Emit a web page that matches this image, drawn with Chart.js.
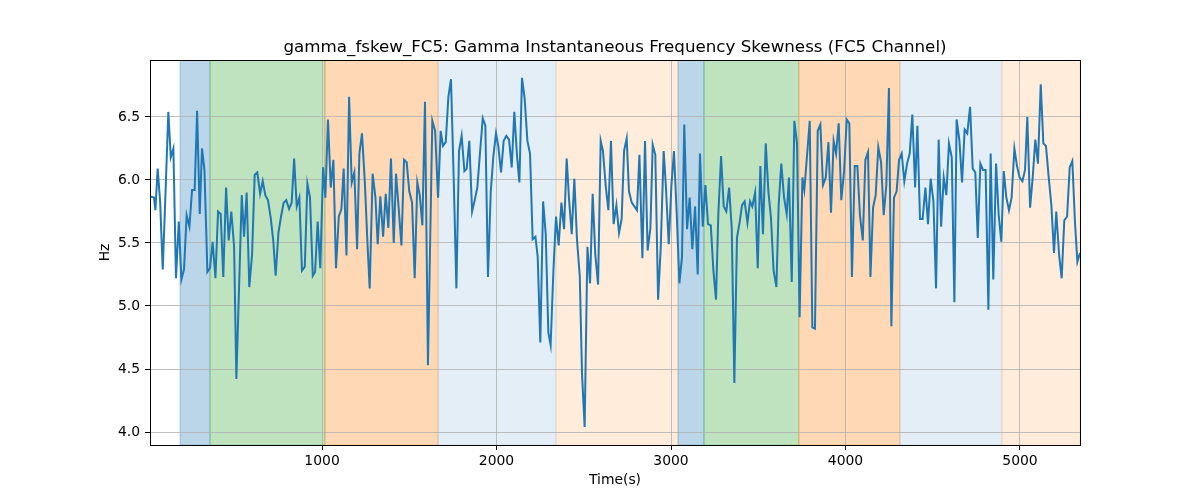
<!DOCTYPE html>
<html>
<head>
<meta charset="utf-8">
<title>gamma_fskew_FC5</title>
<script src="https://cdn.jsdelivr.net/npm/chart.js@4.4.1/dist/chart.umd.min.js"></script>
<style>
  html, body { margin: 0; padding: 0; background: #fff; }
  #wrap { width: 1200px; height: 500px; }
</style>
</head>
<body>
<div id="wrap"><canvas id="chart" width="1200" height="500"></canvas></div>
<script>
'use strict';

// Time stamps (s) and skewness values (Hz)
const times = [
  14, 37, 45, 58, 72, 87, 104, 119, 133, 148, 163, 179, 194, 209, 224, 240, 255, 270, 284, 299,
  312, 326, 343, 358, 373, 389, 404, 419, 434, 450, 465, 480, 496, 509, 540, 553, 568, 583, 599, 614,
  629, 645, 660, 675, 690, 706, 721, 734, 750, 765, 780, 795, 811, 826, 840, 855, 870, 885, 901, 916,
  931, 947, 960, 975, 990, 1006, 1019, 1034, 1050, 1065, 1080, 1096, 1111, 1124, 1140, 1155, 1170, 1185, 1201, 1214,
  1229, 1245, 1260, 1273, 1290, 1306, 1319, 1334, 1350, 1365, 1380, 1395, 1411, 1424, 1439, 1455, 1470, 1485, 1500, 1516,
  1531, 1546, 1560, 1575, 1590, 1607, 1632, 1648, 1665, 1680, 1693, 1709, 1724, 1739, 1755, 1770, 1785, 1800, 1816, 1829,
  1844, 1860, 1875, 1890, 1905, 1921, 1936, 1951, 1967, 1982, 1997, 2010, 2026, 2041, 2056, 2072, 2087, 2102, 2117, 2131,
  2146, 2161, 2177, 2192, 2207, 2223, 2236, 2251, 2267, 2282, 2297, 2310, 2326, 2341, 2356, 2372, 2387, 2402, 2415, 2431,
  2446, 2461, 2477, 2490, 2505, 2521, 2536, 2551, 2566, 2582, 2597, 2610, 2626, 2641, 2656, 2671, 2687, 2702, 2717, 2731,
  2746, 2759, 2775, 2790, 2805, 2819, 2836, 2851, 2866, 2882, 2895, 2910, 2926, 2941, 2958, 2971, 2987, 3002, 3017, 3033,
  3048, 3063, 3076, 3092, 3107, 3122, 3138, 3153, 3166, 3182, 3197, 3212, 3228, 3243, 3258, 3271, 3287, 3302, 3317, 3333,
  3348, 3363, 3378, 3394, 3407, 3422, 3438, 3453, 3466, 3482, 3497, 3512, 3527, 3543, 3558, 3573, 3588, 3604, 3617, 3632,
  3648, 3663, 3676, 3692, 3707, 3722, 3737, 3753, 3764, 3780, 3795, 3810, 3825, 3841, 3856, 3871, 3887, 3902, 3917, 3932,
  3946, 3961, 3976, 3992, 4007, 4022, 4037, 4053, 4068, 4083, 4099, 4114, 4129, 4143, 4158, 4173, 4188, 4204, 4219, 4234,
  4249, 4263, 4278, 4293, 4307, 4322, 4337, 4353, 4368, 4383, 4399, 4412, 4427, 4442, 4458, 4473, 4488, 4504, 4519, 4534,
  4548, 4563, 4578, 4593, 4609, 4624, 4637, 4653, 4668, 4683, 4698, 4714, 4729, 4744, 4758, 4773, 4788, 4803, 4819, 4832,
  4847, 4863, 4878, 4893, 4907, 4922, 4937, 4952, 4968, 4983, 4998, 5014, 5029, 5042, 5058, 5073, 5088, 5103, 5119, 5134,
  5149, 5164, 5180, 5195, 5208, 5224, 5239, 5254, 5270, 5285, 5300, 5315, 5329, 5344
];

const skewHz = [
  5.87, 5.86, 5.76, 6.09, 5.83, 5.29, 5.94, 6.54, 6.18, 6.25, 5.22, 5.67, 5.21, 5.29, 5.72, 5.63, 5.92, 5.92, 6.55, 5.73,
  6.25, 6.08, 5.27, 5.30, 5.51, 5.22, 5.75, 5.73, 5.23, 5.94, 5.52, 5.75, 5.47, 4.42, 5.88, 5.55, 5.90, 5.15, 5.41, 6.04,
  6.06, 5.89, 5.99, 5.88, 5.84, 5.70, 5.51, 5.24, 5.58, 5.71, 5.82, 5.84, 5.77, 5.82, 6.17, 5.79, 5.86, 5.28, 5.31, 5.97,
  5.86, 5.24, 5.27, 5.67, 5.30, 6.10, 5.86, 6.48, 5.94, 6.16, 5.30, 5.71, 5.77, 6.09, 5.40, 6.66, 5.98, 6.06, 5.45, 6.21,
  6.37, 5.99, 5.51, 5.14, 6.05, 5.86, 5.49, 5.87, 5.55, 5.89, 5.62, 6.17, 5.50, 6.05, 5.78, 5.48, 6.16, 6.14, 5.91, 5.82,
  5.22, 5.98, 5.88, 5.64, 6.62, 4.53, 6.47, 6.39, 5.86, 6.39, 6.27, 6.30, 6.66, 6.80, 5.99, 5.14, 6.23, 6.35, 6.07, 6.09,
  6.31, 5.75, 5.84, 5.94, 6.21, 6.49, 6.43, 5.23, 5.91, 6.19, 6.37, 6.27, 6.06, 6.31, 6.35, 6.32, 6.10, 6.54, 6.20, 5.98,
  6.81, 6.65, 6.31, 6.21, 5.53, 5.55, 5.39, 4.71, 5.83, 5.57, 4.79, 4.69, 5.28, 5.71, 5.48, 5.82, 5.61, 6.17, 5.86, 5.57,
  6.01, 5.53, 5.24, 4.46, 4.04, 5.47, 5.18, 5.89, 5.41, 5.17, 6.31, 6.23, 5.95, 5.76, 6.31, 5.65, 5.80, 5.58, 5.69, 6.23,
  6.33, 5.91, 5.82, 5.79, 5.76, 6.20, 5.38, 6.31, 5.44, 5.62, 6.28, 6.20, 5.05, 5.46, 6.23, 5.94, 5.49, 5.95, 6.23, 5.72,
  5.18, 5.39, 6.44, 5.61, 5.86, 5.45, 5.79, 5.25, 6.21, 5.63, 5.96, 5.65, 5.64, 5.28, 5.05, 5.72, 6.19, 5.79, 5.75, 5.94,
  5.62, 4.39, 5.54, 5.67, 5.80, 5.83, 5.66, 5.83, 5.79, 5.90, 5.30, 6.11, 5.57, 6.29, 5.91, 5.70, 5.28, 5.15, 5.80, 6.13,
  5.86, 5.73, 6.02, 5.19, 6.47, 6.29, 4.91, 6.02, 5.92, 6.20, 6.47, 4.83, 4.82, 6.39, 6.44, 5.96, 6.02, 6.30, 5.74, 6.31,
  6.21, 6.45, 5.84, 6.07, 6.48, 6.45, 5.23, 6.11, 6.11, 5.72, 5.52, 6.16, 6.22, 5.23, 5.78, 5.88, 6.26, 6.14, 5.72, 5.96,
  6.73, 4.84, 5.86, 5.91, 6.16, 6.21, 5.99, 6.13, 6.21, 6.52, 5.94, 6.43, 5.69, 5.69, 5.94, 5.65, 6.01, 5.83, 5.14, 6.32,
  5.63, 6.02, 5.88, 6.29, 6.18, 5.03, 6.48, 6.31, 5.98, 6.40, 6.37, 6.58, 6.09, 6.06, 5.54, 6.13, 6.08, 6.08, 4.97, 6.21,
  5.21, 6.13, 5.72, 5.51, 6.07, 5.86, 5.76, 5.86, 6.25, 6.11, 6.02, 5.99, 6.08, 6.50, 5.78, 6.02, 6.32, 6.13, 6.76, 6.29,
  6.27, 6.03, 5.80, 5.42, 5.75, 5.41, 5.22, 5.68, 5.71, 6.10, 6.15, 5.67, 5.35, 5.42
];

// Shaded phases (start / end in seconds, phase id)
const bandStart = [186, 358, 1017, 1665, 2341, 3040, 3189, 3733, 4312, 4897];
const bandEnd   = [358, 1017, 1665, 2341, 3040, 3189, 3733, 4312, 4897, 5344];
const bandPhase = ['a', 'b', 'c', 'd', 'e', 'a', 'b', 'c', 'd', 'e'];

const xTickValues = [1000, 2000, 3000, 4000, 5000];
const yTickValues = [4.0, 4.5, 5.0, 5.5, 6.0, 6.5];

const X_MIN = 14, X_MAX = 5344;
const Y_MIN = 3.897, Y_MAX = 6.952;

const TITLE = 'gamma_fskew_FC5: Gamma Instantaneous Frequency Skewness (FC5 Channel)';
const FONT = 'DejaVu Sans';

const phaseColors = {
  a: 'rgba(31,119,180,0.3)',
  b: 'rgba(44,160,44,0.3)',
  c: 'rgba(255,127,14,0.3)',
  d: 'rgba(31,119,180,0.12)',
  e: 'rgba(255,127,14,0.15)',
};

// axvspan-style shading, under the grid
const bandsPlugin = {
  id: 'bands',
  beforeDraw(chart) {
    const { ctx, chartArea: a, scales: { x } } = chart;
    ctx.save();
    ctx.beginPath();
    ctx.rect(a.left, a.top, a.right - a.left, a.bottom - a.top);
    ctx.clip();
    bandStart.forEach((s, i) => {
      const x0 = x.getPixelForValue(s);
      const x1 = x.getPixelForValue(bandEnd[i]);
      ctx.fillStyle = phaseColors[bandPhase[i]];
      ctx.fillRect(x0, a.top, x1 - x0, a.bottom - a.top);
      ctx.strokeStyle = phaseColors[bandPhase[i]];
      ctx.lineWidth = 1;
      ctx.strokeRect(x0, a.top, x1 - x0, a.bottom - a.top);
    });
    ctx.restore();
  },
};

// frame + title
const framePlugin = {
  id: 'frame',
  afterDraw(chart) {
    const { ctx, chartArea: a } = chart;
    ctx.save();
    ctx.strokeStyle = '#000';
    ctx.lineWidth = 1;
    ctx.strokeRect(Math.round(a.left) + 0.5, Math.round(a.top) + 0.5,
      Math.round(a.right - a.left), Math.round(a.bottom - a.top));
    ctx.fillStyle = '#000';
    ctx.font = `16.7px "${FONT}"`;
    ctx.textAlign = 'center';
    ctx.textBaseline = 'alphabetic';
    ctx.fillText(TITLE, (a.left + a.right) / 2, 52);
    ctx.restore();
  },
};

const tickFont = { family: FONT, size: 13.9 };

new Chart(document.getElementById('chart').getContext('2d'), {
  type: 'line',
  data: {
    datasets: [{
      data: times.map((t, i) => ({ x: t, y: skewHz[i] })),
      borderColor: '#1f77b4',
      borderWidth: 2,
      pointRadius: 0,
      tension: 0,
      fill: false,
    }],
  },
  options: {
    responsive: false,
    animation: false,
    devicePixelRatio: 1,
    layout: { padding: { left: 0, right: 120, top: 60, bottom: 0 } },
    plugins: {
      legend: { display: false },
      tooltip: { enabled: false },
      title: { display: false },
    },
    scales: {
      x: {
        type: 'linear',
        min: X_MIN,
        max: X_MAX,
        afterBuildTicks: s => { s.ticks = xTickValues.map(v => ({ value: v })); },
        afterFit: s => { s.height = 55; },
        border: { display: false },
        grid: { color: '#b0b0b0', lineWidth: 0.8, tickColor: '#000', tickLength: 5, tickWidth: 1 },
        ticks: { color: '#000', font: tickFont, padding: 3, maxRotation: 0, autoSkip: false, callback: v => String(v) },
        title: { display: true, text: 'Time(s)', color: '#000', font: tickFont, padding: { top: 0, bottom: 11 } },
      },
      y: {
        type: 'linear',
        min: Y_MIN,
        max: Y_MAX,
        afterBuildTicks: s => { s.ticks = yTickValues.map(v => ({ value: v })); },
        afterFit: s => { s.width = 150; },
        border: { display: false },
        grid: { color: '#b0b0b0', lineWidth: 0.8, tickColor: '#000', tickLength: 5, tickWidth: 1 },
        ticks: { color: '#000', font: tickFont, padding: 5, callback: v => Number(v).toFixed(1) },
        title: { display: true, text: 'Hz', color: '#000', font: tickFont, padding: { top: 97, bottom: 0 } },
      },
    },
  },
  plugins: [bandsPlugin, framePlugin],
});
</script>
</body>
</html>
